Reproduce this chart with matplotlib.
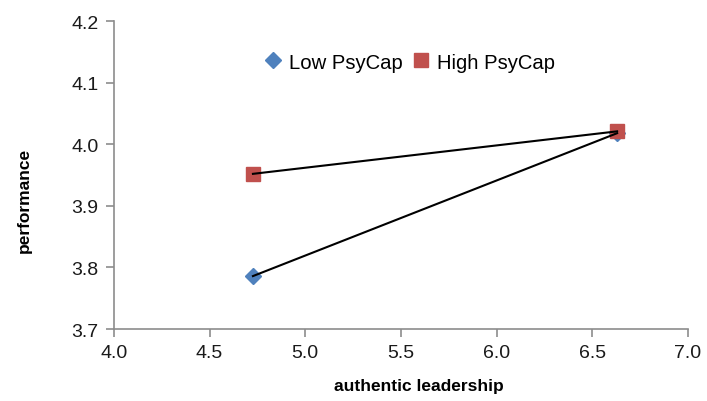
import matplotlib
matplotlib.use("Agg")
import matplotlib.pyplot as plt

plt.rcParams['font.family'] = ['Liberation Sans', 'DejaVu Sans']

x_levels = [4.727, 6.63]
low_psycap = [3.786, 4.018]
high_psycap = [3.952, 4.021]
x_ticks = [4.0, 4.5, 5.0, 5.5, 6.0, 6.5, 7.0]
y_ticks = [3.7, 3.8, 3.9, 4.0, 4.1, 4.2]

fig = plt.figure(figsize=(7.07, 4.02), dpi=100)
ax = fig.add_axes([0.161, 0.179, 0.812, 0.766])

ax.plot(x_levels, low_psycap, linestyle='none', marker='D', markersize=8.5,
        color='#4F81BD', label='Low PsyCap', zorder=2)
ax.plot(x_levels, high_psycap, linestyle='none', marker='s', markersize=10.5,
        color='#C0504D', label='High PsyCap', zorder=2)
ax.plot(x_levels, low_psycap, color='black', linewidth=1.5, zorder=3)
ax.plot(x_levels, high_psycap, color='black', linewidth=1.5, zorder=3)

ax.set_xlim(4.0, 7.0)
ax.set_ylim(3.7, 4.2)
ax.set_xticks(x_ticks)
ax.set_yticks(y_ticks)
ax.set_xticklabels([f"{v:.1f}" for v in x_ticks])
ax.set_yticklabels([f"{v:.1f}" for v in y_ticks])

for s in ['top', 'right']:
    ax.spines[s].set_visible(False)
for s in ['left', 'bottom']:
    ax.spines[s].set_color('#8c8c8c')
    ax.spines[s].set_linewidth(1.2)
ax.tick_params(axis='both', colors='#8c8c8c', length=6, width=1.2,
               labelsize=14, labelcolor='#1a1a1a', pad=5)

ax.set_xlabel('authentic leadership', fontsize=12.5, fontweight='bold')
ax.set_ylabel('performance', fontsize=12.5, fontweight='bold')
ax.xaxis.set_label_coords(0.531, -0.16)
ax.yaxis.set_label_coords(-0.143, 0.422)

leg = ax.legend(loc='center', bbox_to_anchor=(0.516, 0.867), ncol=2, frameon=False,
                fontsize=14.6, handlelength=0.8, handletextpad=0.4, columnspacing=0.5,
                borderaxespad=0)

fig.savefig('out.png', dpi=100)
